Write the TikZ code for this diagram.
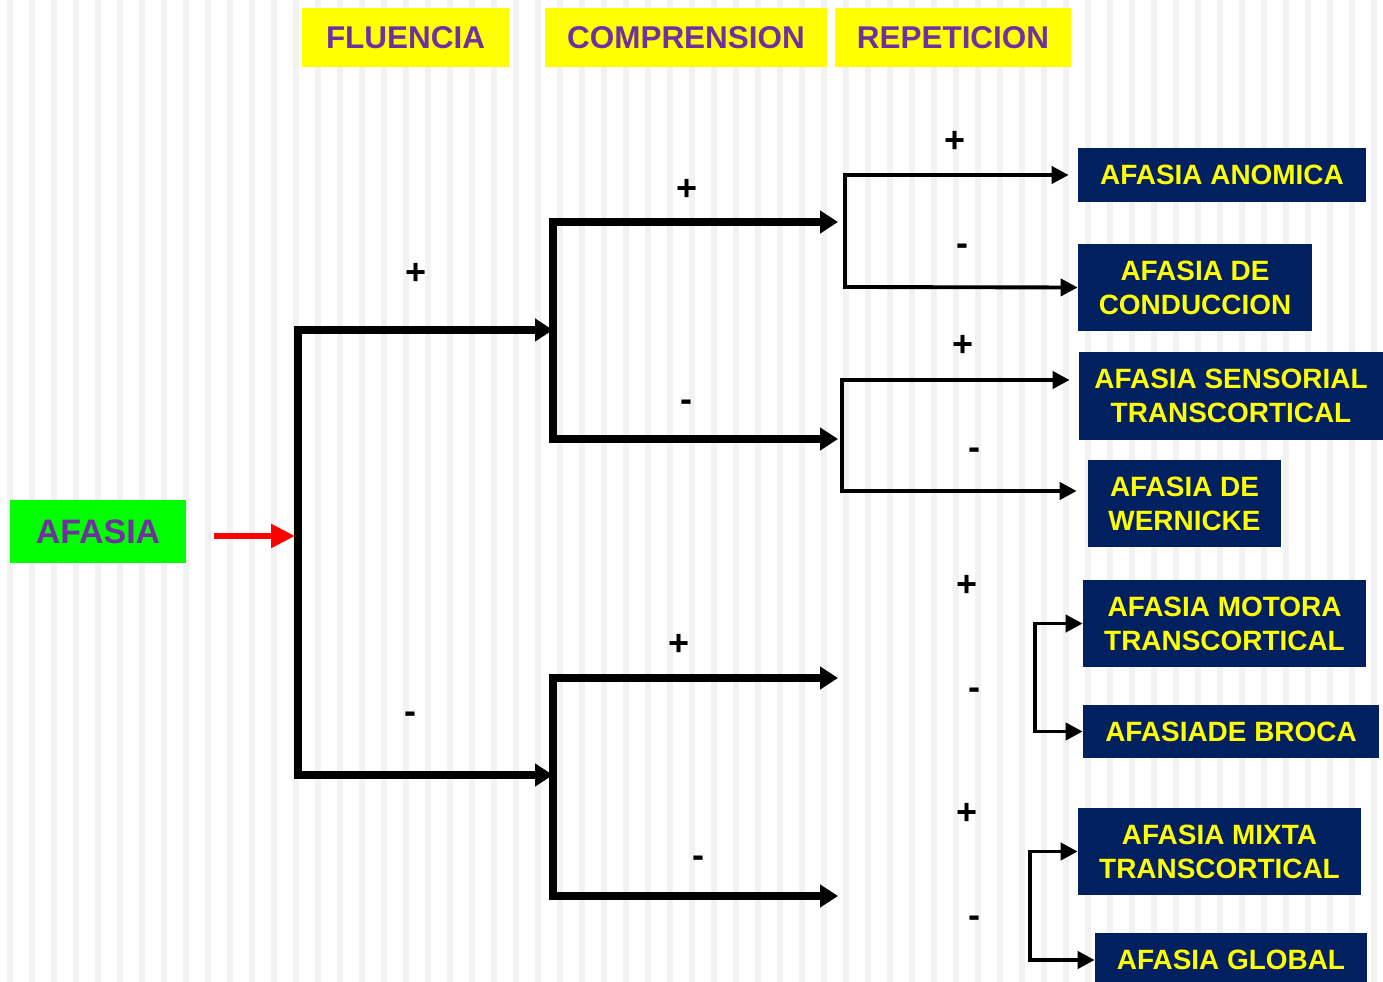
\documentclass[tikz,border=0pt]{standalone}
\usepackage{fontspec}
\setmainfont{Liberation Sans}
\usetikzlibrary{arrows.meta}
\definecolor{navy}{HTML}{002060}
\definecolor{hdryellow}{HTML}{FFFF00}
\definecolor{hdrpurple}{HTML}{7030A0}
\definecolor{afgreen}{HTML}{00FF00}
\definecolor{stripe}{HTML}{F2F2F2}
\tikzset{
  header/.style={fill=hdryellow, text=hdrpurple, inner sep=0pt, minimum height=1.18cm,
    font=\fontsize{17.9}{20}\selectfont\bfseries},
  result/.style={fill=navy, text=hdryellow, inner sep=0pt, align=center,
    font=\fontsize{15.9}{19.3}\selectfont\bfseries},
  sign/.style={inner sep=0pt, text height=14.35pt, text depth=0pt,
    font=\fontsize{20.5}{22}\selectfont\bfseries},
  thickbr/.style={line width=4pt, >={Triangle[length=0.36cm,width=0.44cm]}, <->},
  thinbr/.style={line width=2.2pt, >={Triangle[length=0.34cm,width=0.34cm]}, <->},
  redarr/.style={red, line width=3.2pt, -{Triangle[length=0.48cm,width=0.46cm]}},
}

\begin{document}
\begin{tikzpicture}[x=0.02cm, y=-0.02cm]
  \useasboundingbox (0,0) rectangle (1383,982);
  % striped background
  \fill[white] (0,0) rectangle (1383,982);
  \foreach \k in {0,...,62}
    \fill[stripe] ({7+22*\k},0) rectangle ++(6,982);

  % column headers
  \node[header, minimum width=4.14cm] (fluencia) at (405.5,37.5) {FLUENCIA};
  \node[header, minimum width=5.64cm] (comprension) at (686,37.5) {COMPRENSION};
  \node[header, minimum width=4.72cm] (repeticion) at (953,37.5) {REPETICION};

  % start
  \node[fill=afgreen, text=hdrpurple, inner sep=0pt, minimum width=3.52cm, minimum height=1.26cm,
    font=\fontsize{19.3}{22}\selectfont\bfseries] (afasia) at (98,531.5) {AFASIA};

  % results
  \node[result, minimum width=5.76cm, minimum height=1.08cm] (anomica) at (1222,175) {AFASIA ANOMICA};
  \node[result, minimum width=4.68cm, minimum height=1.74cm] (conduccion) at (1195,287.5) {AFASIA DE\\CONDUCCION};
  \node[result, minimum width=6.08cm, minimum height=1.76cm] (sensorial) at (1231,396) {AFASIA SENSORIAL\\TRANSCORTICAL};
  \node[result, minimum width=3.86cm, minimum height=1.74cm] (wernicke) at (1184.5,503.5) {AFASIA DE\\WERNICKE};
  \node[result, minimum width=5.66cm, minimum height=1.74cm] (motora) at (1224.5,623.5) {AFASIA MOTORA\\TRANSCORTICAL};
  \node[result, minimum width=5.92cm, minimum height=1.06cm] (broca) at (1231,731.5) {AFASIADE BROCA};
  \node[result, minimum width=5.66cm, minimum height=1.74cm] (mixta) at (1219.5,851.5) {AFASIA MIXTA\\TRANSCORTICAL};
  \node[result, minimum width=5.44cm, minimum height=1.08cm] (global) at (1231,960) {AFASIA GLOBAL};

  % bracket corners
  \coordinate (fm) at (295,536);
  \coordinate (f1) at (298,330);
  \coordinate (f2) at (298,775);
  \coordinate (c1) at (553,222);
  \coordinate (c2) at (553,439);
  \coordinate (c3) at (553,678);
  \coordinate (c4) at (553,896);
  \coordinate (e1) at (838,678);
  \coordinate (e2) at (838,896);
  \coordinate (r1) at (845,176);
  \coordinate (r2) at (845,287);
  \coordinate (r3) at (842,380);
  \coordinate (r4) at (842,491);
  \coordinate (r5) at (1035,0);
  \coordinate (r6) at (1030,0);

  % connectors
  \draw[redarr, shorten <=0.56cm] (afasia.east |- fm) -- (fm);
  \draw[thickbr] (f1 -| c1) -- (f1) -- (f2) -- (f2 -| c3);
  \draw[thickbr, shorten <=0.14cm, shorten >=0.08cm] (c1 -| r1) -- (c1) -- (c2) -- (c2 -| r3);
  \draw[thickbr] (e1) -- (c3) -- (c4) -- (e2);
  \draw[thinbr, shorten <=0.18cm] (anomica.west) -- (anomica.west -| r1) -- (r2) -- (conduccion.west);
  \draw[thinbr, shorten <=0.18cm, shorten >=0.22cm] (sensorial.west |- r3) -- (r3) -- (r4) -- (wernicke.west |- r4);
  \draw[thinbr] (motora.west) -- (motora.west -| r5) -- (broca.west -| r5) -- (broca.west);
  \draw[thinbr] (mixta.west) -- (mixta.west -| r6) -- (global.west -| r6) -- (global.west);

  % branch signs
  \node[sign] (flp) at (416,272) {+};
  \node[sign] (flm) at (410,711) {-};
  \node[sign] (cpp1) at (687,188) {+};
  \node[sign] (cpm1) at (686,399) {-};
  \node[sign] (cpp2) at (679,643) {+};
  \node[sign] (cpm2) at (698,855) {-};
  \node[sign] (rpp1) at (955,140) {+};
  \node[sign] (rpm1) at (962,243) {-};
  \node[sign] (rpp2) at (963,344) {+};
  \node[sign] (rpm2) at (974,447) {-};
  \node[sign] (rpp3) at (967,584) {+};
  \node[sign] (rpm3) at (974,687) {-};
  \node[sign] (rpp4) at (967,812) {+};
  \node[sign] (rpm4) at (974,915) {-};
\end{tikzpicture}
\end{document}
